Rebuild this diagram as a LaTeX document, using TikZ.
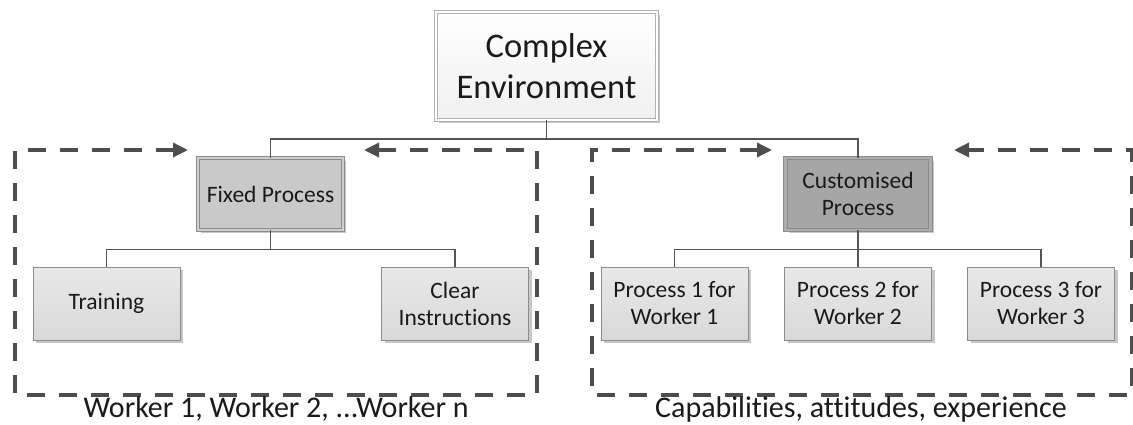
\documentclass[tikz,border=0pt]{standalone}
\usepackage{fontspec}
\setmainfont[Ligatures=NoCommon]{Carlito}
\usetikzlibrary{arrows.meta,shadows}
\definecolor{linkgray}{HTML}{555555}
\definecolor{dashgray}{HTML}{4D4D4D}
\definecolor{boxline}{HTML}{8C8C8C}
\definecolor{inktext}{HTML}{1A1A1A}
\begin{document}
\begin{tikzpicture}[x=1pt,y=-1pt,
  every node/.style={text=inktext,inner sep=0pt,align=center},
  shade/.style={drop shadow={shadow xshift=3pt,shadow yshift=-3pt,opacity=0.22,fill=black}},
  box/.style={shade,draw=boxline,line width=0.9pt,minimum width=147pt,minimum height=73pt,
    top color=gray!18,bottom color=gray!30,font=\fontsize{23.5}{27}\selectfont},
  headbox/.style={shade,draw=boxline,line width=0.9pt,double distance=2.4pt,
    minimum width=145pt,minimum height=72pt,font=\fontsize{23.5}{27}\selectfont},
  link/.style={draw=linkgray,line width=1.7pt},
  loop/.style={draw=dashgray,line width=3.4pt,dash pattern=on 18pt off 14pt,
    {Triangle[length=15pt,width=14pt]}-{Triangle[length=15pt,width=14pt]}},
  caption/.style={anchor=base,font=\fontsize{30}{34}\selectfont}]
\useasboundingbox (0,0) rectangle (1133,425);

\draw[loop] (188,150) -- (15,150) -- (15,395) -- (537,395) -- (537,150) -- (364,150);
\draw[loop] (772,150) -- (592,150) -- (592,395) -- (1132,395) -- (1132,150) -- (954,150);

\node[shade,draw=gray!60,line width=0.9pt,double=white,double distance=2.4pt,
  minimum width=221pt,minimum height=108pt,top color=white,bottom color=gray!12,
  font=\fontsize{34.5}{41}\selectfont] (complex) at (546.5,66) {Complex\\Environment};

\node[headbox,fill=gray!42,double=gray!38] (fixed) at (270.5,194) {Fixed Process};
\node[headbox,fill=gray!70,double=gray!64] (custom) at (858,194) {Customised\\Process};

\node[box] (training) at (106.5,303.5) {Training};
\node[box] (clear) at (455,303.5) {Clear\\Instructions};

\node[box] (proc1) at (674.5,303.5) {Process 1 for\\Worker 1};
\node[box] (proc2) at (858,303.5) {Process 2 for\\Worker 2};
\node[box] (proc3) at (1041,303.5) {Process 3 for\\Worker 3};

\coordinate (topbus) at (546.5,139);
\draw[link] (complex) -- (topbus) -| (fixed);
\draw[link] (topbus) -| (custom);

\draw[link] (fixed.south) -- ++(0,19) -| (training);
\draw[link] (fixed.south) -- ++(0,19) -| (clear);

\draw[link] (custom.south) -- ++(0,19) -| (proc1);
\draw[link] (custom) -- (proc2);
\draw[link] (custom.south) -- ++(0,19) -| (proc3);

\node[caption] (workers) at (276,417) {Worker 1, Worker 2, ...Worker n};
\node[caption] (traits) at (861,417) {Capabilities, attitudes, experience};
\end{tikzpicture}
\end{document}
